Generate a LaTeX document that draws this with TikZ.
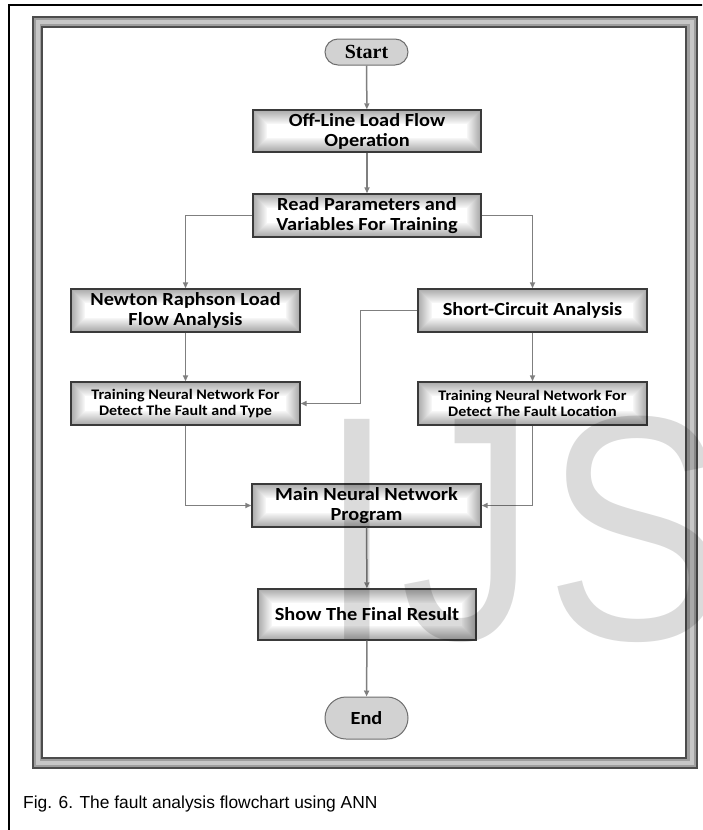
\documentclass[tikz,border=0pt]{standalone}
\usepackage{fontspec}
\setmainfont{Carlito}
\newfontfamily\boxfont[FakeStretch=1.1]{Carlito}
\newfontfamily\termserif{Liberation Serif}
\newfontfamily\capfont{Liberation Sans}
\newfontfamily\markfont[FakeStretch=0.85]{Liberation Sans}
\usetikzlibrary{arrows.meta}

\definecolor{boxedge}{HTML}{3A3A3A}
\definecolor{flowline}{HTML}{7F7F7F}
\definecolor{pillfill}{HTML}{D2D2D2}
\definecolor{pilledge}{HTML}{6E6E6E}

\tikzset{
  glow/.style={path picture={
      \foreach \i in {1,...,14}{
        \pgfmathsetmacro{\w}{2*(15-\i)}
        \pgfmathsetmacro{\c}{1.2+\i*2.3}
        \draw[line width=\w pt, black!\c]
          (path picture bounding box.south west) rectangle (path picture bounding box.north east);
      }}},
  procbox/.style={draw=boxedge, line width=1.4pt, fill=white, glow,
    minimum width=229pt, minimum height=43pt, inner sep=0pt, align=center,
    font=\boxfont\bfseries\fontsize{18.5}{20}\selectfont},
  trainbox/.style={procbox, font=\boxfont\bfseries\fontsize{14.6}{15.5}\selectfont},
  terminal/.style={draw=pilledge, line width=1pt, fill=pillfill,
    minimum width=83pt, rounded corners=13pt, inner sep=0pt},
  flow/.style={draw=flowline, line width=1.5pt,
    -{Triangle[length=6pt,width=5pt]}},
  markletter/.style={anchor=base west, inner sep=0pt, text=black, text opacity=0.14,
    font=\markfont\fontsize{320}{320}\selectfont},
}

\begin{document}
\begin{tikzpicture}[x=1pt,y=-1pt]
\useasboundingbox (0,0) rectangle (702,830);
\clip (0,0) rectangle (702,830);
\fill[white] (0,0) rectangle (702,830);

% outer page frame (runs off the right and bottom edges)
\draw[black, line width=2pt] (9,840) -- (9,5) -- (712,5);

% grey double frame around the chart
\fill[black!38, even odd rule] (33,17) rectangle (697,768) (42,27) rectangle (686,758);
\draw[black!22, line width=4pt] (37.5,22) rectangle (691.5,763);
\draw[black!70, line width=1.2pt] (33,17) rectangle (697,768);
\draw[black!70, line width=1.2pt] (42,27) rectangle (686,758);

% nodes
\node[terminal, minimum height=26pt, rounded corners=13pt,
      font=\termserif\bfseries\fontsize{20}{20}\selectfont] (start) at (366.5,52) {Start};
\node[procbox, minimum width=228pt, minimum height=42pt] (offline) at (367,131) {Off-Line Load Flow\\Operation};
\node[procbox, minimum width=228pt] (read) at (367,215.5) {Read Parameters and\\Variables For Training};
\node[procbox] (newton) at (185.5,310.5) {Newton Raphson Load\\Flow Analysis};
\node[procbox] (short) at (532.5,310.5) {Short-Circuit Analysis};
\node[trainbox] (trainL) at (185.5,403.5) {Training Neural Network For\\Detect The Fault and Type};
\node[trainbox] (trainR) at (532.5,403.5) {Training Neural Network For\\Detect The Fault Location};
\node[procbox] (main) at (366.5,505.5) {Main Neural Network\\Program};
\node[procbox, minimum width=218pt, minimum height=51pt] (show) at (367,614.5) {Show The Final Result};
\node[terminal, minimum height=42pt, rounded corners=21pt,
      font=\boxfont\bfseries\fontsize{18.5}{20}\selectfont] (end) at (366.5,718) {End};

% connectors
\draw[flow] (start) -- (offline);
\draw[flow] (offline) -- (read);
\draw[flow] (read.west) -| (newton.north);
\draw[flow] (read.east) -| (short.north);
\draw[flow] (newton) -- (trainL);
\draw[flow] (short) -- (trainR);
\draw[flow] (short.west) -- ++(-57,0) |- (trainL.east);
\draw[flow] (trainL.south) |- (main.west);
\draw[flow] (trainR.south) |- (main.east);
\draw[flow] (main) -- (show);
\draw[flow] (show) -- (end);

% watermark letters
\node[markletter] (markI) at (319,639) {I};
\node[markletter] (markJ) at (400,639) {J};
\node[markletter] (markS) at (545,639) {S};

% caption
\node[anchor=base west, inner sep=0pt, font=\capfont\fontsize{17.4}{20}\selectfont]
  (caption) at (23,808) {Fig. 6. The fault analysis flowchart using ANN};
\end{tikzpicture}
\end{document}
